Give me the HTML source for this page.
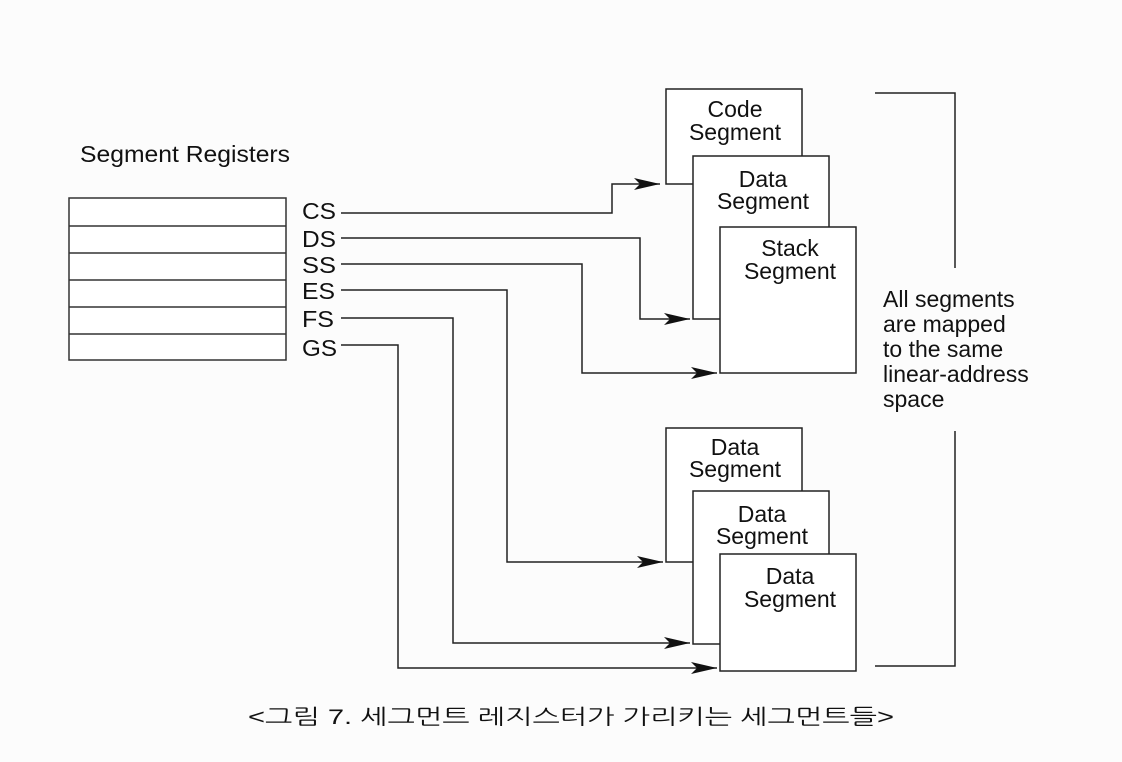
<!DOCTYPE html>
<html><head><meta charset="utf-8"><style>
html,body{margin:0;padding:0;background:#fcfcfc;}
svg{display:block}
text{font-family:"Liberation Sans",Arial,sans-serif;fill:#111;}
</style></head><body>
<svg width="1122" height="762" viewBox="0 0 1122 762" xmlns="http://www.w3.org/2000/svg">
<defs>
<marker id="a" markerWidth="26" markerHeight="12" refX="26" refY="6" orient="auto" markerUnits="userSpaceOnUse">
<path d="M0,0 L26,6 L0,12 L6,6 Z" fill="#111"/>
</marker>
</defs>
<g stroke="#333" stroke-width="1.5" fill="none">
<rect x="69" y="198" width="217" height="162" fill="#fff"/>
<line x1="69" y1="226" x2="286" y2="226"/>
<line x1="69" y1="253" x2="286" y2="253"/>
<line x1="69" y1="280" x2="286" y2="280"/>
<line x1="69" y1="307" x2="286" y2="307"/>
<line x1="69" y1="334" x2="286" y2="334"/>
</g>
<text x="80" y="162" font-size="23" textLength="210" lengthAdjust="spacingAndGlyphs">Segment Registers</text>
<g font-size="23">
<text x="302" y="219" textLength="34" lengthAdjust="spacingAndGlyphs">CS</text>
<text x="302" y="247" textLength="34" lengthAdjust="spacingAndGlyphs">DS</text>
<text x="302" y="273" textLength="34" lengthAdjust="spacingAndGlyphs">SS</text>
<text x="302" y="299" textLength="33" lengthAdjust="spacingAndGlyphs">ES</text>
<text x="302" y="327" textLength="32" lengthAdjust="spacingAndGlyphs">FS</text>
<text x="302" y="356" textLength="35" lengthAdjust="spacingAndGlyphs">GS</text>
</g>
<g stroke="#222" stroke-width="1.5" fill="none">
<rect x="666" y="89" width="136" height="95" fill="#fff"/>
<rect x="693" y="156" width="136" height="163" fill="#fff"/>
<rect x="720" y="227" width="136" height="146" fill="#fff"/>
<rect x="666" y="428" width="136" height="134" fill="#fff"/>
<rect x="693" y="491" width="136" height="153" fill="#fff"/>
<rect x="720" y="554" width="136" height="117" fill="#fff"/>
<polyline points="341,213 612,213 612,184 660,184" marker-end="url(#a)"/>
<polyline points="341,238 640,238 640,319 690,319" marker-end="url(#a)"/>
<polyline points="341,264 582,264 582,373 717,373" marker-end="url(#a)"/>
<polyline points="341,290 507,290 507,562 663,562" marker-end="url(#a)"/>
<polyline points="341,318 453,318 453,643 690,643" marker-end="url(#a)"/>
<polyline points="341,345 398,345 398,668 717,668" marker-end="url(#a)"/>
<polyline points="875,93 955,93 955,268"/>
<polyline points="955,431 955,666 875,666"/>
</g>
<g font-size="23" text-anchor="middle">
<text x="735" y="117">Code</text><text x="735" y="140">Segment</text>
<text x="763" y="187">Data</text><text x="763" y="209">Segment</text>
<text x="790" y="256">Stack</text><text x="790" y="279">Segment</text>
<text x="735" y="455">Data</text><text x="735" y="477">Segment</text>
<text x="762" y="522">Data</text><text x="762" y="544">Segment</text>
<text x="790" y="584">Data</text><text x="790" y="607">Segment</text>
</g>
<g font-size="23">
<text x="883" y="307">All segments</text>
<text x="883" y="332">are mapped</text>
<text x="883" y="357">to the same</text>
<text x="883" y="382">linear-address</text>
<text x="883" y="407">space</text>
</g>
<text x="248" y="724" font-size="21" textLength="646" lengthAdjust="spacingAndGlyphs" style='font-family:"Liberation Sans","NanumGothic","Noto Sans CJK KR",sans-serif'>&lt;그림 7. 세그먼트 레지스터가 가리키는 세그먼트들&gt;</text>
</svg>
</body></html>
